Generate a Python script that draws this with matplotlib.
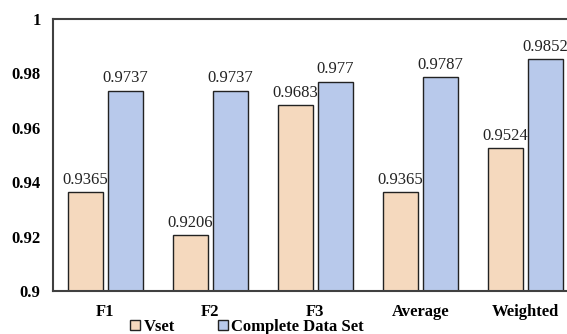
import matplotlib
matplotlib.use("Agg")
import matplotlib.pyplot as plt
import numpy as np

categories = ["F1", "F2", "F3", "Average", "Weighted"]
vset = [0.9365, 0.9206, 0.9683, 0.9365, 0.9524]
complete = [0.9737, 0.9737, 0.977, 0.9787, 0.9852]
series_names = ["Vset", "Complete Data Set"]
yticks = [0.9, 0.92, 0.94, 0.96, 0.98, 1.0]
ytick_labels = ["0.9", "0.92", "0.94", "0.96", "0.98", "1"]

serif = ["Liberation Serif", "DejaVu Serif"]
c_vset = "#F5D9BE"
c_comp = "#B8C9EB"

fig = plt.figure(figsize=(5.67, 3.34), dpi=100)
ax = fig.add_axes([53 / 567, 43 / 334, 525 / 567, 272 / 334])

x = np.arange(len(categories))
w = 0.333
gap = 0.048
b1 = ax.bar(x - (w + gap) / 2, [v - 0.9 for v in vset], w, bottom=0.9,
            color=c_vset, edgecolor="#222222", linewidth=1.0, label=series_names[0])
b2 = ax.bar(x + (w + gap) / 2, [v - 0.9 for v in complete], w, bottom=0.9,
            color=c_comp, edgecolor="#222222", linewidth=1.0, label=series_names[1])

for bars, vals in ((b1, vset), (b2, complete)):
    for rect, v in zip(bars, vals):
        ax.annotate(f"{v:g}", (rect.get_x() + rect.get_width() / 2, v),
                    xytext=(0, 3), textcoords="offset points",
                    ha="center", va="bottom", fontsize=12, family=serif, color="#222222")

ax.set_xlim(-0.5, len(categories) - 0.5)
ax.set_ylim(0.9, 1.0)
ax.set_yticks(yticks)
ax.set_yticklabels(ytick_labels, family=serif, fontweight="bold", fontsize=12)
ax.set_xticks(x)
ax.set_xticklabels(categories, family=serif, fontweight="bold", fontsize=12)
ax.tick_params(length=0, pad=9, axis="y")
ax.tick_params(length=0, pad=9, axis="x")
for s in ax.spines.values():
    s.set_color("#404040")
    s.set_linewidth(1.5)

leg = fig.legend(handles=[b1, b2], labels=series_names, loc="center left",
                 bbox_to_anchor=(130 / 567, 7 / 334), ncol=2, frameon=False,
                 prop={"family": serif, "weight": "bold", "size": 12},
                 handlelength=0.6, handleheight=0.6, handletextpad=0.2, columnspacing=2.6,
                 borderpad=0, borderaxespad=0)

fig.savefig("out.png", dpi=100)
